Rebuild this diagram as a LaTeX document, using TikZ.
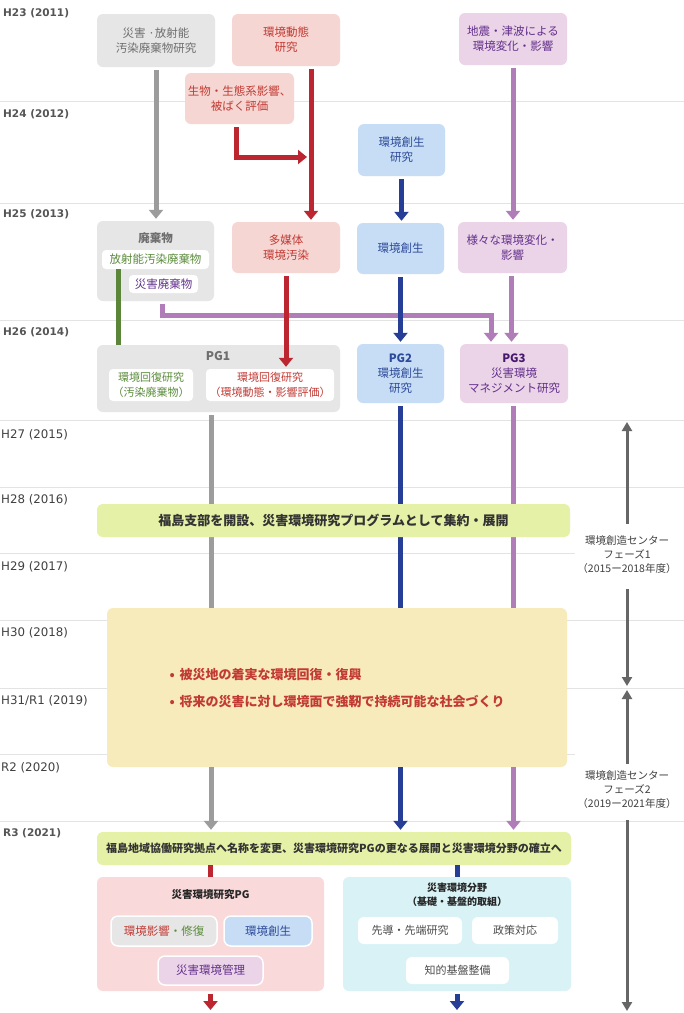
\documentclass[tikz,border=0pt]{standalone}
\usepackage{fontspec}
\setmainfont{Noto Sans CJK JP}
\newfontfamily\yearfont{DejaVu Sans}
\usetikzlibrary{arrows.meta}

\definecolor{gridgray}{HTML}{E3E3E3}
\definecolor{yeartext}{HTML}{555555}
\definecolor{grayfill}{HTML}{E6E6E6}
\definecolor{graytext}{HTML}{6E6E6E}
\definecolor{grayline}{HTML}{9C9C9C}
\definecolor{redfill}{HTML}{F6D6D2}
\definecolor{redtext}{HTML}{C23A34}
\definecolor{redline}{HTML}{BC2630}
\definecolor{bluefill}{HTML}{C6DDF5}
\definecolor{bluetext}{HTML}{2E4A9A}
\definecolor{blueline}{HTML}{263E96}
\definecolor{purplefill}{HTML}{EBD3E8}
\definecolor{purpletext}{HTML}{62308A}
\definecolor{purpledark}{HTML}{45186E}
\definecolor{purpleline}{HTML}{B07DB8}
\definecolor{greentext}{HTML}{5B8C3C}
\definecolor{greenline}{HTML}{5B8539}
\definecolor{bannerfill}{HTML}{E5F1A6}
\definecolor{goalfill}{HTML}{F8EBBB}
\definecolor{pinkfill}{HTML}{F9D9D9}
\definecolor{cyanfill}{HTML}{D8F2F6}
\definecolor{phasegray}{HTML}{666666}

\pgfdeclarelayer{background}
\pgfsetlayers{background,main}

\begin{document}
\begin{tikzpicture}[x=1pt, y=-1pt,
        box/.style={rectangle, rounded corners=6pt, align=center, inner sep=2pt, font=\fontsize{11.5}{15}\selectfont},
        graybox/.style={box, fill=grayfill, text=graytext},
        redbox/.style={box, fill=redfill, text=redtext},
        bluebox/.style={box, fill=bluefill, text=bluetext},
        purplebox/.style={box, fill=purplefill, text=purpletext},
        whitebox/.style={box, fill=white, rounded corners=4pt, inner sep=1pt},
        innerbox/.style={box, draw=white, line width=1.5pt, rounded corners=7pt},
        banner/.style={box, fill=bannerfill, text=black!80, font=\bfseries\fontsize{13}{15}\selectfont},
        title/.style={align=center, text=black!85, font=\bfseries\fontsize{10.5}{14}\selectfont},
        year/.style={anchor=west, text=yeartext, inner sep=0pt},
        link/.style={line width=5pt, -{Triangle[width=14pt,length=9pt]}, shorten >=2pt, shorten <=3pt},
        bar/.style={line width=5pt},
        phase/.style={line width=3pt, draw=phasegray, -{Triangle[width=10pt,length=9pt]}},
        phasetext/.style={align=center, text=black!75, font=\fontsize{10.5}{14}\selectfont},
        goal/.style={anchor=west, text=redtext, font=\bfseries\fontsize{13}{15}\selectfont}
    ]
    \useasboundingbox (0,0) rectangle (684,1013);

    % Year rows
    \begin{pgfonlayer}{background}
        \fill[white] (0,0) rectangle (684,1013);
        \foreach \y/\xe in {101/684, 203/684, 320/684, 420/684, 487/684, 553/575, 620/684, 688/684, 754/575, 821/684} {
            \draw[gridgray, line width=1pt] (0,\y) -- (\xe,\y);
        }
    \end{pgfonlayer}
    \foreach \y/\t in {13/H23 (2011), 114/H24 (2012), 214/H25 (2013), 332/H26 (2014), 833/R3 (2021)} {
        \node[year, font=\yearfont\bfseries\fontsize{10.5}{12}\selectfont] (Y\y) at (3,\y) {\t};
    }
    \foreach \y/\t in {435/H27 (2015), 500/H28 (2016), 567/H29 (2017), 633/H30 (2018), 701/{H31/R1 (2019)}, 768/R2 (2020)} {
        \node[year, text=black!75, font=\yearfont\fontsize{11.8}{13}\selectfont] (Y\y) at (1,\y) {\t};
    }

    % 2011 - 2012
    \node[graybox, minimum width=118pt, minimum height=53pt] (waste0) at (156,40.5) {災害 ·放射能\\汚染廃棄物研究};
    \node[redbox, minimum width=108pt, minimum height=52pt] (dyn0) at (286,40) {環境動態\\研究};
    \node[purplebox, minimum width=108pt, minimum height=52pt] (quake0) at (513,39) {地震・津波による\\環境変化・影響};
    \node[redbox, minimum width=109pt, minimum height=51pt] (bio0) at (239.5,98.5) {生物・生態系影響、\\被ばく評価};
    \node[bluebox, minimum width=87pt, minimum height=52pt] (create0) at (401.5,150) {環境創生\\研究};

    % 2013
    \node[graybox, minimum width=117pt, minimum height=80pt] (waste1) at (155.5,261) {};
    \node[title, text=graytext, font=\bfseries\fontsize{11.5}{14}\selectfont] (wastetitle) at (155.5,238) {廃棄物};
    \node[whitebox, text=greentext, minimum width=107pt, minimum height=19pt] (radwaste) at (155.5,259.5) {放射能汚染廃棄物};
    \node[whitebox, text=purpletext, minimum width=69pt, minimum height=18pt] (diswaste) at (163.5,284) {災害廃棄物};
    \node[redbox, minimum width=108pt, minimum height=51pt] (media1) at (286,247.5) {多媒体\\環境汚染};
    \node[bluebox, minimum width=87pt, minimum height=51pt] (create1) at (400.5,248.5) {環境創生};
    \node[purplebox, minimum width=109pt, minimum height=51pt] (change1) at (512.5,247.5) {様々な環境変化・\\影響};

    % 2014
    \node[graybox, minimum width=243pt, minimum height=67pt] (pg1) at (218.5,378.5) {};
    \node[title, text=graytext, font=\bfseries\fontsize{12}{14}\selectfont] (pg1title) at (218,356) {PG1};
    \node[whitebox, text=greentext, minimum width=84pt, minimum height=32pt, font=\fontsize{11}{15}\selectfont] (pg1a) at (151,385) {環境回復研究\\（汚染廃棄物）};
    \node[whitebox, text=redtext, minimum width=128pt, minimum height=32pt, font=\fontsize{11}{15}\selectfont] (pg1b) at (270,385) {環境回復研究\\（環境動態・影響評価）};
    \node[bluebox, minimum width=87pt, minimum height=59pt] (pg2) at (400.5,373.5) {\textbf{PG2}\\環境創生\\研究};
    \node[purplebox, minimum width=108pt, minimum height=59pt] (pg3) at (514,373.5) {\textcolor{purpledark}{\textbf{PG3}}\\災害環境\\マネジメント研究};

    % 2016 - 2020
    \node[banner, minimum width=473pt, minimum height=33pt] (fukushima) at (333.5,520.5) {福島支部を開設、災害環境研究プログラムとして集約・展開};
    \node[box, fill=goalfill, minimum width=460pt, minimum height=159pt] (goals) at (337,687.5) {};
    \node[goal] (goal1) at (166,675) {•\hspace{5pt}被災地の着実な環境回復・復興};
    \node[goal] (goal2) at (166,702) {•\hspace{5pt}将来の災害に対し環境面で強靭で持続可能な社会づくり};

    % 2021
    \node[banner, minimum width=474pt, minimum height=33pt, font=\bfseries\fontsize{11}{13}\selectfont] (rename) at (334,848.5) {福島地域協働研究拠点へ名称を変更、災害環境研究PGの更なる展開と災害環境分野の確立へ};
    \node[box, fill=pinkfill, minimum width=227pt, minimum height=114pt] (pgbox) at (210.5,934) {};
    \node[title] (pgtitle) at (210.5,895) {災害環境研究PG};
    \node[innerbox, fill=grayfill, minimum width=106pt, minimum height=30pt] (impact) at (164,931) {\textcolor{redtext}{環境影響}\textcolor{greentext}{・修復}};
    \node[innerbox, fill=bluefill, text=bluetext, minimum width=88pt, minimum height=30pt] (creation) at (268,931) {環境創生};
    \node[innerbox, fill=purplefill, text=purpletext, minimum width=105pt, minimum height=29pt] (mgmt) at (210.5,970.5) {災害環境管理};
    \node[box, fill=cyanfill, minimum width=228pt, minimum height=114pt] (fieldbox) at (457,934) {};
    \node[title, font=\bfseries\fontsize{10}{14}\selectfont] (fieldtitle) at (457,895) {災害環境分野\\（基礎・基盤的取組）};
    \node[whitebox, text=black!70, rounded corners=6pt, minimum width=104pt, minimum height=27pt, font=\fontsize{11}{14}\selectfont] (lead) at (410,930.5) {先導・先端研究};
    \node[whitebox, text=black!70, rounded corners=6pt, minimum width=86pt, minimum height=27pt, font=\fontsize{11}{14}\selectfont] (policy) at (515,930.5) {政策対応};
    \node[whitebox, text=black!70, rounded corners=6pt, minimum width=103pt, minimum height=27pt, font=\fontsize{11}{14}\selectfont] (infra) at (457.5,970.5) {知的基盤整備};

    % Phases
    \node[phasetext] (phase1) at (627,555) {環境創造センター\\フェーズ1\\（2015ー2018年度）};
    \node[phasetext] (phase2) at (627,789.5) {環境創造センター\\フェーズ2\\（2019ー2021年度）};
    \coordinate (ph1top) at (627,422);
    \coordinate (ph1bot) at (627,686);
    \coordinate (ph2top) at (627,690);
    \coordinate (ph2bot) at (627,1011);
    \draw[phase, shorten <=9pt] (phase1.north) -- (ph1top);
    \draw[phase, shorten <=12pt] (phase1.south) -- (ph1bot);
    \draw[phase, shorten <=3pt] (phase2.north) -- (ph2top);
    \draw[phase, shorten <=8pt] (phase2.south) -- (ph2bot);

    % Connections: 2011 -> 2013
    \coordinate (bioend) at (309,157);
    \draw[link, grayline] (waste0.south) -- (waste0.south |- waste1.north);
    \draw[link, redline] ([xshift=25pt]dyn0.south) -- ([xshift=25pt]dyn0.south |- media1.north);
    \draw[link, redline] ([xshift=-3pt]bio0.south) |- (bioend);
    \draw[link, blueline] (create0.south) -- (create0.south |- create1.north);
    \draw[link, purpleline] (quake0.south) -- (quake0.south |- change1.north);

    % Connections: 2013 -> 2014
    \draw[bar, greenline] ([xshift=-37pt]radwaste.south) -- ([xshift=-37pt]radwaste.south |- pg1.north);
    \draw[link, purpleline] ([xshift=6.5pt]waste1.south) -- ++(0,14) -| ([xshift=-23pt]pg3.north);
    \draw[link, redline] (media1.south) -- (media1.south |- pg1b.north);
    \draw[link, blueline] (create1.south) -- (create1.south |- pg2.north);
    \draw[link, purpleline] ([xshift=-1pt]change1.south) -- ([xshift=-1pt]change1.south |- pg3.north);

    % Connections: 2014 -> 2021
    \coordinate (colgray) at (211,0);
    \coordinate (colblue) at (400.5,0);
    \coordinate (colpurple) at (513.5,0);
    \begin{pgfonlayer}{background}
        \draw[bar, grayline, shorten <=3pt] (pg1.south -| colgray) -- (goals.north -| colgray);
        \draw[bar, blueline, shorten <=3pt] (pg2.south -| colblue) -- (goals.north -| colblue);
        \draw[bar, purpleline, shorten <=3pt] (pg3.south -| colpurple) -- (goals.north -| colpurple);
    \end{pgfonlayer}
    \draw[link, grayline, shorten <=0pt] (goals.south -| colgray) -- (rename.north -| colgray);
    \draw[link, blueline, shorten <=0pt] (goals.south -| colblue) -- (rename.north -| colblue);
    \draw[link, purpleline, shorten <=0pt] (goals.south -| colpurple) -- (rename.north -| colpurple);
    \draw[bar, redline] (rename.south -| pgbox.north) -- (pgbox.north);
    \draw[bar, blueline] (rename.south -| fieldbox.north) -- (fieldbox.north);

    % Outgoing
    \coordinate (pgout) at (210.5,1012);
    \coordinate (fieldout) at (457,1012);
    \draw[link, redline] (pgbox.south) -- (pgout);
    \draw[link, blueline] (fieldbox.south) -- (fieldout);

\end{tikzpicture}
\end{document}
